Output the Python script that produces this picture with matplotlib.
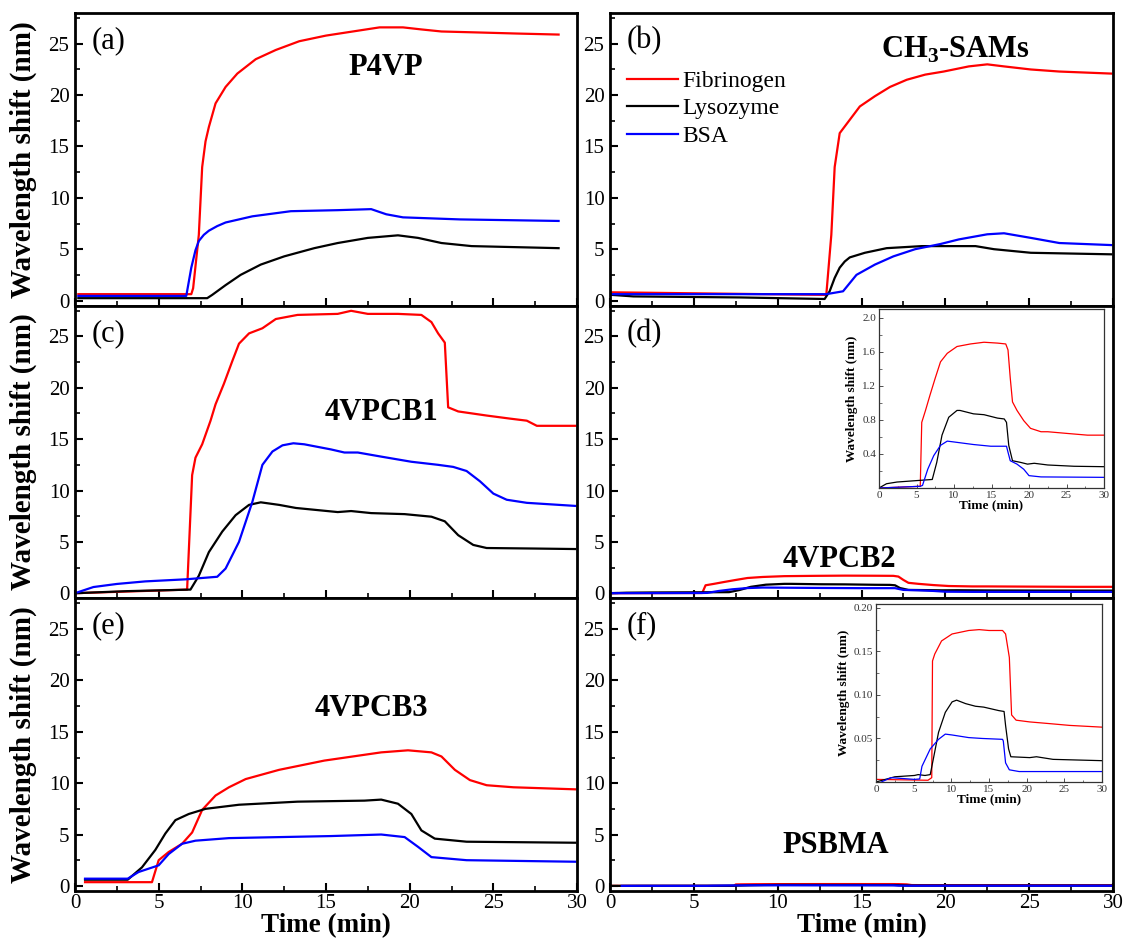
import matplotlib
matplotlib.use("Agg")
import matplotlib.pyplot as plt
from matplotlib.ticker import MultipleLocator

plt.rcParams['font.family'] = ['Liberation Serif', 'DejaVu Serif']
plt.rcParams['mathtext.fontset'] = 'custom'
plt.rcParams['mathtext.rm'] = 'Liberation Serif'
plt.rcParams['mathtext.bf'] = 'Liberation Serif:bold'

series_names = ["Fibrinogen", "Lysozyme", "BSA"]
series_colors = ["#ff0000", "#000000", "#0000ff"]

# ---- panel (a) P4VP ----
a_fib_t = [0.2, 6.95, 7.06, 7.4, 7.6, 7.8, 8.0, 8.4, 9.0, 9.7, 10.8, 12.0, 13.4, 15.0, 16.6, 18.2, 19.6, 20.7, 21.9, 24.2, 26.4, 28.9]
a_fib = [0.62, 0.62, 1.2, 6.4, 13.0, 15.5, 16.9, 19.2, 20.8, 22.1, 23.5, 24.4, 25.25, 25.8, 26.2, 26.6, 26.6, 26.4, 26.2, 26.1, 26.0, 25.9]
a_lys_t = [0.2, 7.9, 8.2, 9.0, 9.9, 11.1, 12.5, 14.3, 15.7, 17.5, 19.3, 20.5, 21.9, 23.7, 28.9]
a_lys = [0.23, 0.23, 0.55, 1.5, 2.5, 3.5, 4.3, 5.1, 5.6, 6.1, 6.35, 6.1, 5.6, 5.3, 5.1]
a_bsa_t = [0.2, 6.65, 6.95, 7.2, 7.4, 7.7, 8.0, 8.5, 9.0, 10.6, 12.9, 15.7, 17.7, 18.6, 19.6, 23.0, 28.9]
a_bsa = [0.45, 0.45, 3.2, 4.9, 5.8, 6.4, 6.8, 7.25, 7.6, 8.2, 8.7, 8.8, 8.9, 8.4, 8.1, 7.9, 7.75]

# ---- panel (b) CH3-SAMs ----
b_fib_t = [0.1, 12.9, 13.2, 13.4, 13.7, 14.3, 14.9, 15.8, 16.7, 17.7, 18.8, 19.9, 21.4, 22.5, 23.5, 25.1, 26.8, 29.9]
b_fib = [0.8, 0.55, 6.4, 13.0, 16.3, 17.6, 18.9, 19.9, 20.8, 21.5, 22.0, 22.3, 22.8, 23.0, 22.8, 22.5, 22.3, 22.1]
b_lys_t = [0.1, 1.4, 7.8, 12.8, 13.1, 13.4, 13.7, 14.0, 14.3, 15.2, 16.5, 18.6, 21.8, 22.9, 25.1, 29.9]
b_lys = [0.55, 0.4, 0.3, 0.15, 0.9, 2.2, 3.2, 3.8, 4.2, 4.65, 5.1, 5.3, 5.3, 5.0, 4.65, 4.5]
b_bsa_t = [0.1, 12.9, 13.9, 14.7, 15.8, 16.9, 18.2, 19.7, 20.8, 22.5, 23.5, 25.1, 26.8, 29.9]
b_bsa = [0.62, 0.62, 0.9, 2.5, 3.5, 4.3, 5.0, 5.5, 5.95, 6.45, 6.55, 6.1, 5.6, 5.4]

# ---- panel (c) 4VPCB1 ----
c_fib_t = [0.0, 6.7, 7.0, 7.2, 7.6, 8.1, 8.4, 8.9, 9.4, 9.8, 10.4, 11.2, 12.0, 13.3, 15.7, 16.5, 17.5, 19.3, 20.7, 21.3, 21.7, 22.1, 22.3, 22.9, 24.6, 26.0, 27.0, 27.6, 29.9]
c_fib = [0.0, 0.35, 11.5, 13.2, 14.5, 16.8, 18.4, 20.4, 22.6, 24.3, 25.3, 25.8, 26.7, 27.1, 27.2, 27.5, 27.2, 27.2, 27.1, 26.4, 25.3, 24.4, 18.1, 17.7, 17.3, 17.0, 16.8, 16.3, 16.3]
c_lys_t = [0.0, 3.1, 6.9, 7.4, 8.0, 8.8, 9.6, 10.4, 11.1, 12.2, 13.2, 15.7, 16.5, 17.7, 19.7, 21.3, 22.1, 22.9, 23.8, 24.6, 27.4, 29.9]
c_lys = [0.0, 0.2, 0.35, 1.7, 4.0, 6.0, 7.6, 8.6, 8.85, 8.6, 8.3, 7.9, 8.0, 7.8, 7.7, 7.45, 7.0, 5.65, 4.7, 4.4, 4.35, 4.3]
c_bsa_t = [0.0, 1.1, 2.5, 4.2, 6.6, 8.5, 9.0, 9.8, 10.6, 11.2, 11.8, 12.4, 13.05, 13.7, 15.3, 16.1, 16.9, 18.3, 20.1, 21.7, 22.6, 23.4, 24.2, 25.0, 25.8, 27.0, 29.9]
c_bsa = [0.0, 0.6, 0.9, 1.15, 1.35, 1.6, 2.4, 5.0, 8.9, 12.5, 13.8, 14.4, 14.6, 14.5, 14.0, 13.7, 13.7, 13.3, 12.8, 12.5, 12.3, 11.9, 10.9, 9.7, 9.1, 8.8, 8.5]

# ---- panel (d) 4VPCB2 (main and inset) ----
d_fib_t = [0.0, 5.5, 5.7, 6.2, 6.8, 7.5, 8.2, 9.1, 10.4, 12.2, 14.0, 15.8, 16.9, 17.2, 17.5, 17.8, 18.4, 19.3, 20.2, 21.6, 22.5, 25.1, 27.8, 30.0]
d_fib = [0.0, 0.02, 0.77, 0.91, 1.09, 1.29, 1.48, 1.58, 1.66, 1.69, 1.71, 1.70, 1.69, 1.62, 1.29, 1.01, 0.91, 0.79, 0.70, 0.66, 0.66, 0.64, 0.62, 0.62]
d_lys_t = [0.0, 1.0, 2.4, 5.5, 7.1, 7.7, 8.4, 9.3, 10.4, 10.8, 12.6, 14.0, 15.8, 16.7, 17.0, 17.3, 17.8, 18.9, 19.8, 20.7, 22.5, 26.0, 30.0]
d_lys = [0.0, 0.05, 0.07, 0.09, 0.10, 0.30, 0.62, 0.83, 0.91, 0.91, 0.87, 0.86, 0.82, 0.81, 0.77, 0.50, 0.32, 0.30, 0.28, 0.29, 0.27, 0.255, 0.25]
d_bsa_t = [0.0, 5.5, 5.8, 6.5, 7.3, 8.2, 9.1, 10.0, 12.6, 14.9, 17.0, 17.2, 17.5, 18.4, 19.3, 20.0, 21.6, 30.0]
d_bsa = [0.0, 0.02, 0.03, 0.22, 0.38, 0.50, 0.55, 0.54, 0.51, 0.49, 0.49, 0.42, 0.32, 0.28, 0.22, 0.145, 0.13, 0.125]

# ---- panel (e) 4VPCB3 ----
e_fib_t = [0.6, 4.6, 5.0, 5.6, 6.4, 7.0, 7.6, 8.4, 9.2, 10.2, 12.2, 14.9, 18.3, 19.9, 21.3, 21.9, 22.7, 23.6, 24.6, 26.2, 29.9]
e_fib = [0.36, 0.36, 2.5, 3.3, 4.1, 5.2, 7.4, 8.8, 9.6, 10.4, 11.3, 12.2, 13.0, 13.2, 13.0, 12.6, 11.3, 10.3, 9.8, 9.6, 9.4]
e_lys_t = [0.6, 3.15, 4.0, 4.8, 5.4, 6.0, 6.8, 7.8, 9.8, 13.3, 17.3, 18.3, 19.3, 20.1, 20.7, 21.5, 23.4, 29.9]
e_lys = [0.6, 0.6, 1.8, 3.5, 5.1, 6.4, 7.0, 7.5, 7.9, 8.2, 8.3, 8.4, 8.0, 7.0, 5.4, 4.6, 4.3, 4.2]
e_bsa_t = [0.6, 3.15, 3.8, 5.0, 5.6, 6.4, 7.2, 9.2, 15.3, 18.3, 19.7, 20.5, 21.3, 23.4, 29.9]
e_bsa = [0.7, 0.7, 1.35, 2.0, 3.1, 4.1, 4.4, 4.65, 4.85, 5.0, 4.75, 3.8, 2.8, 2.5, 2.35]

# ---- panel (f) PSBMA (main and inset) ----
f_fib_t = [0.0, 6.9, 7.4, 7.5, 7.8, 8.7, 10.1, 12.3, 13.7, 15.0, 16.8, 17.2, 17.7, 18.0, 18.6, 20.4, 23.1, 25.7, 30.0]
f_fib = [0.003, 0.002, 0.005, 0.139, 0.147, 0.162, 0.170, 0.174, 0.175, 0.174, 0.174, 0.170, 0.143, 0.077, 0.071, 0.069, 0.067, 0.065, 0.063]
f_lys_t = [0.0, 2.5, 5.1, 5.6, 6.5, 7.2, 7.6, 8.3, 9.2, 10.1, 10.7, 11.9, 13.2, 14.3, 16.3, 17.0, 17.2, 17.6, 17.9, 20.4, 21.3, 23.5, 30.0]
f_lys = [0.0, 0.006, 0.0075, 0.0085, 0.0075, 0.0085, 0.026, 0.057, 0.080, 0.092, 0.094, 0.090, 0.087, 0.086, 0.082, 0.081, 0.065, 0.038, 0.029, 0.028, 0.029, 0.026, 0.0245]
f_bsa_t = [0.7, 2.0, 5.1, 5.8, 6.1, 7.2, 8.3, 9.2, 10.1, 12.3, 14.1, 16.8, 16.9, 17.2, 17.7, 19.0, 30.0]
f_bsa = [0.0, 0.005, 0.003, 0.0035, 0.018, 0.038, 0.049, 0.055, 0.054, 0.051, 0.050, 0.049, 0.047, 0.022, 0.014, 0.012, 0.012]

panel_letters = ["(a)", "(b)", "(c)", "(d)", "(e)", "(f)"]
panel_titles = ["P4VP", r"CH$_\mathbf{3}$-SAMs", "4VPCB1", "4VPCB2", "4VPCB3", "PSBMA"]
x_label = "Time (min)"
y_label = "Wavelength shift (nm)"
d_inset_yticks = [0.4, 0.8, 1.2, 1.6, 2.0]
f_inset_yticks = [0.05, 0.10, 0.15, 0.20]

panels = [
    [(a_fib_t, a_fib), (a_lys_t, a_lys), (a_bsa_t, a_bsa)],
    [(b_fib_t, b_fib), (b_lys_t, b_lys), (b_bsa_t, b_bsa)],
    [(c_fib_t, c_fib), (c_lys_t, c_lys), (c_bsa_t, c_bsa)],
    [(d_fib_t, d_fib), (d_lys_t, d_lys), (d_bsa_t, d_bsa)],
    [(e_fib_t, e_fib), (e_lys_t, e_lys), (e_bsa_t, e_bsa)],
    [(f_fib_t, f_fib), (f_lys_t, f_lys), (f_bsa_t, f_bsa)],
]
title_pos = [(0.62, 0.815), (0.686, 0.875), (0.61, 0.636), (0.457, 0.134), (0.59, 0.625), (0.448, 0.156)]

W, H = 1124, 939
fig = plt.figure(figsize=(W / 100, H / 100), dpi=100)

col_x = [(75, 577), (610, 1113)]
top_px, bot_px = 13, 891
row_h = (bot_px - top_px) / 3.0

axes = []
for i in range(6):
    r, c = divmod(i, 2)
    x0, x1 = col_x[c]
    y_top = top_px + r * row_h
    y_bot = y_top + row_h
    ax = fig.add_axes([x0 / W, 1 - y_bot / H, (x1 - x0) / W, row_h / H])
    axes.append(ax)
    for (t, v), col, name in zip(panels[i], series_colors, series_names):
        ax.plot(t, v, color=col, lw=1.6, label=name)
    ax.set_xlim(0, 30)
    ax.set_ylim(-0.5, 28)
    ax.xaxis.set_major_locator(MultipleLocator(5))
    ax.xaxis.set_minor_locator(MultipleLocator(2.5))
    ax.yaxis.set_major_locator(MultipleLocator(5))
    ax.yaxis.set_minor_locator(MultipleLocator(2.5))
    ax.tick_params(which='both', direction='in', top=False, right=False, labelsize=15, pad=4)
    ax.tick_params(axis='x', pad=2)
    ax.tick_params(which='major', length=6, width=1.5)
    ax.tick_params(which='minor', length=3.5, width=1.2)
    for sp in ax.spines.values():
        sp.set_linewidth(2.0)
    if r < 2:
        ax.tick_params(labelbottom=False)
    else:
        ax.set_xlabel(x_label, fontsize=19.5, fontweight='bold', labelpad=0)
    if c == 0:
        ax.set_ylabel(y_label, fontsize=21, fontweight='bold', labelpad=8)
    ax.text(0.034, 0.905, panel_letters[i], transform=ax.transAxes, fontsize=22,
            ha='left', va='center')
    tx, ty = title_pos[i]
    ax.text(tx, ty, panel_titles[i], transform=ax.transAxes, fontsize=22,
            fontweight='bold', ha='center', va='center')

axes[1].legend(loc='upper left', bbox_to_anchor=(0.0, 0.86), frameon=False,
               fontsize=17, handlelength=2.2, handletextpad=0.15, labelspacing=0.25,
               borderaxespad=0.3)

inset_specs = [
    (3, (879, 309, 1104, 488), (0, 2.1), d_inset_yticks, 0.2),
    (5, (876, 603.5, 1102, 782), (0, 0.205), f_inset_yticks, 0.025),
]
for idx, (l, t, rr, b), ylim, yt, ymin in inset_specs:
    ia = fig.add_axes([l / W, 1 - b / H, (rr - l) / W, (b - t) / H])
    for (tt, v), col in zip(panels[idx], series_colors):
        ia.plot(tt, v, color=col, lw=0.9)
    ia.set_xlim(0, 30)
    ia.set_ylim(*ylim)
    ia.set_xticks([0, 5, 10, 15, 20, 25, 30])
    ia.xaxis.set_minor_locator(MultipleLocator(2.5))
    ia.set_yticks(yt)
    ia.set_yticklabels([f"{v:.1f}" if idx == 3 else f"{v:.2f}" for v in yt])
    ia.yaxis.set_minor_locator(MultipleLocator(ymin))
    ia.tick_params(which='both', direction='in', labelsize=8, pad=2, colors='#333333')
    ia.tick_params(which='major', length=3, width=0.6)
    ia.tick_params(which='minor', length=1.8, width=0.5)
    for sp in ia.spines.values():
        sp.set_linewidth(0.9)
        sp.set_color('#333333')
    ia.set_xlabel(x_label, fontsize=9.5, fontweight='bold', labelpad=0)
    ia.set_ylabel(y_label, fontsize=9.5, fontweight='bold', labelpad=3)

fig.savefig("out.png", dpi=100)
